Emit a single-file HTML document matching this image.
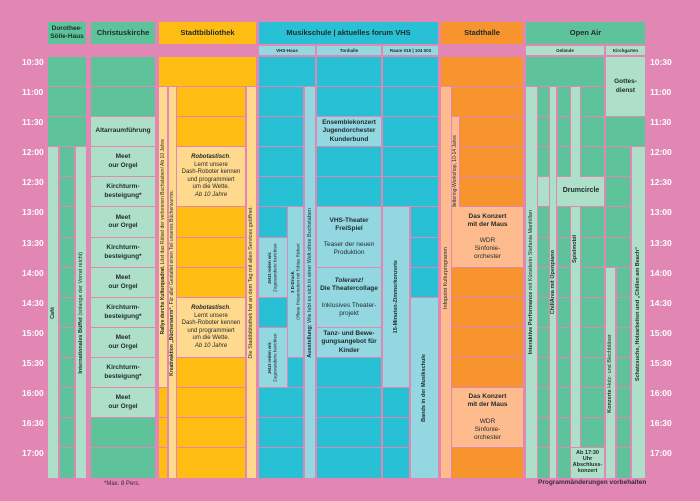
<!DOCTYPE html>
<html><head><meta charset="utf-8"><style>
*{margin:0;padding:0;box-sizing:border-box}
body{width:700px;height:501px;background:#e286b4;position:relative;overflow:hidden;font-family:"Liberation Sans",sans-serif;color:#1f2a2a}
.b{position:absolute;display:flex;align-items:center;justify-content:center;text-align:center;font-size:6.5px;line-height:1.25;overflow:hidden}
.dg{background:#5ec39b}.lg{background:#addfc9}.ye{background:#ffbd13}.ly{background:#ffd98d}
.cy{background:#27c0d4}.lb{background:#93d7e1}.or{background:#f7942d}.pe{background:#fdbb8e}
.h{font-weight:bold;font-size:7.5px}
.s{font-size:4.5px;font-weight:bold}
.v{writing-mode:vertical-rl;transform:rotate(180deg);white-space:nowrap;font-size:5.5px}
.t{position:absolute;color:#fff;font-weight:bold;font-size:8.5px;width:28px}
b{font-weight:bold}
</style></head><body>
<!-- headers -->
<div class="b dg h" style="left:48px;top:22px;width:38px;height:22px;font-size:6.5px">Dorothee-<br>Sölle-Haus</div>
<div class="b dg h" style="left:91px;top:22px;width:64px;height:22px">Christuskirche</div>
<div class="b ye h" style="left:159px;top:22px;width:97px;height:22px">Stadtbibliothek</div>
<div class="b cy h" style="left:259px;top:22px;width:179px;height:22px">Musikschule | aktuelles forum VHS</div>
<div class="b or h" style="left:441px;top:22px;width:82px;height:22px">Stadthalle</div>
<div class="b dg h" style="left:526px;top:22px;width:119px;height:22px">Open Air</div>
<div class="b lb s" style="left:259px;top:46px;width:56px;height:9px">VHS-Haus</div>
<div class="b lb s" style="left:317px;top:46px;width:64px;height:9px">Tonhalle</div>
<div class="b lb s" style="left:383px;top:46px;width:55px;height:9px">Raum 015 | 104 003</div>
<div class="b lg s" style="left:526px;top:46px;width:78px;height:9px">Gelände</div>
<div class="b lg s" style="left:606px;top:46px;width:39px;height:9px">Kirchgarten</div>
<!-- times -->
<div class="t" style="left:22px;top:57px">10:30</div><div class="t" style="left:650px;top:57px">10:30</div>
<div class="t" style="left:22px;top:87px">11:00</div><div class="t" style="left:650px;top:87px">11:00</div>
<div class="t" style="left:22px;top:117px">11:30</div><div class="t" style="left:650px;top:117px">11:30</div>
<div class="t" style="left:22px;top:147px">12:00</div><div class="t" style="left:650px;top:147px">12:00</div>
<div class="t" style="left:22px;top:177px">12:30</div><div class="t" style="left:650px;top:177px">12:30</div>
<div class="t" style="left:22px;top:207px">13:00</div><div class="t" style="left:650px;top:207px">13:00</div>
<div class="t" style="left:22px;top:238px">13:30</div><div class="t" style="left:650px;top:238px">13:30</div>
<div class="t" style="left:22px;top:268px">14:00</div><div class="t" style="left:650px;top:268px">14:00</div>
<div class="t" style="left:22px;top:298px">14:30</div><div class="t" style="left:650px;top:298px">14:30</div>
<div class="t" style="left:22px;top:328px">15:00</div><div class="t" style="left:650px;top:328px">15:00</div>
<div class="t" style="left:22px;top:358px">15:30</div><div class="t" style="left:650px;top:358px">15:30</div>
<div class="t" style="left:22px;top:388px">16:00</div><div class="t" style="left:650px;top:388px">16:00</div>
<div class="t" style="left:22px;top:418px">16:30</div><div class="t" style="left:650px;top:418px">16:30</div>
<div class="t" style="left:22px;top:448px">17:00</div><div class="t" style="left:650px;top:448px">17:00</div>
<!-- Dorothee -->
<div class="b dg" style="left:48px;top:57px;width:38px;height:29px"></div>
<div class="b dg" style="left:48px;top:87px;width:38px;height:29px"></div>
<div class="b dg" style="left:48px;top:117px;width:38px;height:29px"></div>
<div class="b lg" style="left:48px;top:147px;width:10px;height:331px"><span class="v"><b>Café</b></span></div>
<div class="b dg" style="left:60px;top:147px;width:14px;height:29px"></div>
<div class="b dg" style="left:60px;top:177px;width:14px;height:29px"></div>
<div class="b dg" style="left:60px;top:207px;width:14px;height:30px"></div>
<div class="b dg" style="left:60px;top:238px;width:14px;height:29px"></div>
<div class="b dg" style="left:60px;top:268px;width:14px;height:29px"></div>
<div class="b dg" style="left:60px;top:298px;width:14px;height:29px"></div>
<div class="b dg" style="left:60px;top:328px;width:14px;height:29px"></div>
<div class="b dg" style="left:60px;top:358px;width:14px;height:29px"></div>
<div class="b dg" style="left:60px;top:388px;width:14px;height:29px"></div>
<div class="b dg" style="left:60px;top:418px;width:14px;height:29px"></div>
<div class="b dg" style="left:60px;top:448px;width:14px;height:30px"></div>
<div class="b lg" style="left:76px;top:147px;width:10px;height:331px"><span class="v"><b>Internationales Büffet</b> (solange der Vorrat reicht)</span></div>
<!-- Christuskirche -->
<div class="b dg" style="left:91px;top:57px;width:64px;height:29px"></div>
<div class="b dg" style="left:91px;top:87px;width:64px;height:29px"></div>
<div class="b lg" style="left:91px;top:117px;width:64px;height:29px"><b>Altarraumführung</b></div>
<div class="b lg" style="left:91px;top:147px;width:64px;height:29px"><b>Meet<br>our Orgel</b></div>
<div class="b lg" style="left:91px;top:177px;width:64px;height:29px"><b>Kirchturm-<br>besteigung*</b></div>
<div class="b lg" style="left:91px;top:207px;width:64px;height:30px"><b>Meet<br>our Orgel</b></div>
<div class="b lg" style="left:91px;top:238px;width:64px;height:29px"><b>Kirchturm-<br>besteigung*</b></div>
<div class="b lg" style="left:91px;top:268px;width:64px;height:29px"><b>Meet<br>our Orgel</b></div>
<div class="b lg" style="left:91px;top:298px;width:64px;height:29px"><b>Kirchturm-<br>besteigung*</b></div>
<div class="b lg" style="left:91px;top:328px;width:64px;height:29px"><b>Meet<br>our Orgel</b></div>
<div class="b lg" style="left:91px;top:358px;width:64px;height:29px"><b>Kirchturm-<br>besteigung*</b></div>
<div class="b lg" style="left:91px;top:388px;width:64px;height:29px"><b>Meet<br>our Orgel</b></div>
<div class="b dg" style="left:91px;top:418px;width:64px;height:29px"></div>
<div class="b dg" style="left:91px;top:448px;width:64px;height:30px"></div>
<!-- Stadtbibliothek -->
<div class="b ye" style="left:159px;top:57px;width:97px;height:29px"></div>
<div class="b ly" style="left:159px;top:87px;width:8px;height:300px"><span class="v" style="font-size:5px"><b>Rallye durchs Kulturquadrat.</b> Löst das Rätsel der verlorenen Buchstaben! Ab 10 Jahre</span></div>
<div class="b ye" style="left:159px;top:388px;width:8px;height:29px"></div>
<div class="b ye" style="left:159px;top:418px;width:8px;height:29px"></div>
<div class="b ye" style="left:159px;top:448px;width:8px;height:30px"></div>
<div class="b ly" style="left:169px;top:87px;width:7px;height:391px"><span class="v" style="font-size:5px"><b>Kreativaktion „Bücherwurm“.</b> Für alle! Gestaltet einen Teil unseres Bücherwurms.</span></div>
<div class="b ye" style="left:177px;top:87px;width:68px;height:29px"></div>
<div class="b ye" style="left:177px;top:117px;width:68px;height:29px"></div>
<div class="b ly" style="left:177px;top:147px;width:68px;height:59px;font-size:6px"><div><b><i>Robotastisch</i></b>.<br>Lernt unsere<br>Dash-Roboter kennen<br>und programmiert<br>um die Wette.<br><i>Ab 10 Jahre</i></div></div>
<div class="b ye" style="left:177px;top:207px;width:68px;height:30px"></div>
<div class="b ye" style="left:177px;top:238px;width:68px;height:29px"></div>
<div class="b ye" style="left:177px;top:268px;width:68px;height:29px"></div>
<div class="b ly" style="left:177px;top:298px;width:68px;height:59px;font-size:6px"><div><b><i>Robotastisch</i></b>.<br>Lernt unsere<br>Dash-Roboter kennen<br>und programmiert<br>um die Wette.<br><i>Ab 10 Jahre</i></div></div>
<div class="b ye" style="left:177px;top:358px;width:68px;height:29px"></div>
<div class="b ye" style="left:177px;top:388px;width:68px;height:29px"></div>
<div class="b ye" style="left:177px;top:418px;width:68px;height:29px"></div>
<div class="b ye" style="left:177px;top:448px;width:68px;height:30px"></div>
<div class="b ly" style="left:247px;top:87px;width:9px;height:391px"><span class="v">Die Stadtbibliothek hat an dem Tag mit allen Services geöffnet.</span></div>
<!-- VHS-Haus -->
<div class="b cy" style="left:259px;top:57px;width:56px;height:29px"></div>
<div class="b cy" style="left:259px;top:87px;width:44px;height:29px"></div>
<div class="b cy" style="left:259px;top:117px;width:44px;height:29px"></div>
<div class="b cy" style="left:259px;top:147px;width:44px;height:29px"></div>
<div class="b cy" style="left:259px;top:177px;width:44px;height:29px"></div>
<div class="b cy" style="left:259px;top:207px;width:28px;height:30px"></div>
<div class="b lb" style="left:259px;top:238px;width:28px;height:59px"><span class="v" style="font-size:4.5px;white-space:normal;height:56px"><b>Jetzt reden wir.</b><br>Zugewanderte berichten</span></div>
<div class="b cy" style="left:259px;top:298px;width:28px;height:29px"></div>
<div class="b lb" style="left:259px;top:328px;width:28px;height:59px"><span class="v" style="font-size:4.5px;white-space:normal;height:56px"><b>Jetzt reden wir.</b><br>Zugewanderte berichten</span></div>
<div class="b lb" style="left:288px;top:207px;width:15px;height:150px"><span class="v" style="font-size:4.5px;white-space:normal;height:140px"><b>3 D-Druck.</b><br>Offene Präsentation mit Tobias Rickert</span></div>
<div class="b cy" style="left:288px;top:358px;width:15px;height:29px"></div>
<div class="b cy" style="left:259px;top:388px;width:44px;height:29px"></div>
<div class="b cy" style="left:259px;top:418px;width:44px;height:29px"></div>
<div class="b cy" style="left:259px;top:448px;width:44px;height:30px"></div>
<div class="b lb" style="left:305px;top:87px;width:10px;height:391px"><span class="v"><b>Ausstellung:</b> Wie lebt es sich in einer Welt ohne Buchstaben</span></div>
<!-- Tonhalle -->
<div class="b cy" style="left:317px;top:57px;width:64px;height:29px"></div>
<div class="b cy" style="left:317px;top:87px;width:64px;height:29px"></div>
<div class="b lb" style="left:317px;top:117px;width:64px;height:29px"><b>Ensemblekonzert<br>Jugendorchester<br>Kunderbund</b></div>
<div class="b cy" style="left:317px;top:147px;width:64px;height:29px"></div>
<div class="b cy" style="left:317px;top:177px;width:64px;height:29px"></div>
<div class="b lb" style="left:317px;top:207px;width:64px;height:60px"><div><b>VHS-Theater<br>FreiSpiel</b><br><br>Teaser der neuen<br>Produktion</div></div>
<div class="b lb" style="left:317px;top:268px;width:64px;height:59px"><div><b><i>Toleranz!</i><br>Die Theatercollage</b><br><br>Inklusives Theater-<br>projekt</div></div>
<div class="b lb" style="left:317px;top:328px;width:64px;height:29px"><b>Tanz- und Bewe-<br>gungsangebot für<br>Kinder</b></div>
<div class="b cy" style="left:317px;top:358px;width:64px;height:29px"></div>
<div class="b cy" style="left:317px;top:388px;width:64px;height:29px"></div>
<div class="b cy" style="left:317px;top:418px;width:64px;height:29px"></div>
<div class="b cy" style="left:317px;top:448px;width:64px;height:30px"></div>
<!-- Raum -->
<div class="b cy" style="left:383px;top:57px;width:55px;height:29px"></div>
<div class="b cy" style="left:383px;top:87px;width:55px;height:29px"></div>
<div class="b cy" style="left:383px;top:117px;width:55px;height:29px"></div>
<div class="b cy" style="left:383px;top:147px;width:55px;height:29px"></div>
<div class="b cy" style="left:383px;top:177px;width:55px;height:29px"></div>
<div class="b lb" style="left:383px;top:207px;width:26px;height:180px"><span class="v"><b>15-Minuten-Zimmerkonzerte</b></span></div>
<div class="b cy" style="left:383px;top:388px;width:26px;height:29px"></div>
<div class="b cy" style="left:383px;top:418px;width:26px;height:29px"></div>
<div class="b cy" style="left:383px;top:448px;width:26px;height:30px"></div>
<div class="b cy" style="left:411px;top:207px;width:27px;height:30px"></div>
<div class="b cy" style="left:411px;top:238px;width:27px;height:29px"></div>
<div class="b cy" style="left:411px;top:268px;width:27px;height:29px"></div>
<div class="b lb" style="left:411px;top:298px;width:27px;height:180px"><span class="v"><b>Bands in der Musikschule</b></span></div>
<!-- Stadthalle -->
<div class="b or" style="left:441px;top:57px;width:82px;height:29px"></div>
<div class="b pe" style="left:441px;top:87px;width:10px;height:391px;align-items:flex-start;padding-top:160px"><span class="v">Infopoint Kulturprogramm</span></div>
<div class="b or" style="left:452px;top:87px;width:71px;height:29px"></div>
<div class="b pe" style="left:452px;top:117px;width:7px;height:119px"><span class="v" style="font-size:5px">Handlettering-Workshop, 10-14 Jahre</span></div>
<div class="b or" style="left:460px;top:117px;width:63px;height:29px"></div>
<div class="b or" style="left:460px;top:147px;width:63px;height:29px"></div>
<div class="b or" style="left:460px;top:177px;width:63px;height:29px"></div>
<div class="b pe" style="left:452px;top:207px;width:71px;height:60px"><div><b>Das Konzert<br>mit der Maus</b><br><br>WDR<br>Sinfonie-<br>orchester</div></div>
<div class="b or" style="left:452px;top:268px;width:71px;height:29px"></div>
<div class="b or" style="left:452px;top:298px;width:71px;height:29px"></div>
<div class="b or" style="left:452px;top:328px;width:71px;height:29px"></div>
<div class="b or" style="left:452px;top:358px;width:71px;height:29px"></div>
<div class="b pe" style="left:452px;top:388px;width:71px;height:59px"><div><b>Das Konzert<br>mit der Maus</b><br><br>WDR<br>Sinfonie-<br>orchester</div></div>
<div class="b or" style="left:452px;top:448px;width:71px;height:30px"></div>
<!-- Open Air Gelände -->
<div class="b dg" style="left:526px;top:57px;width:78px;height:29px"></div>
<div class="b lg" style="left:526px;top:87px;width:11px;height:391px"><span class="v"><b>Interaktive Performance</b> mit Künstlerin Stefania Manhillan</span></div>
<div class="b dg" style="left:538px;top:87px;width:11px;height:29px"></div>
<div class="b dg" style="left:538px;top:117px;width:11px;height:29px"></div>
<div class="b dg" style="left:538px;top:147px;width:11px;height:29px"></div>
<div class="b lg" style="left:538px;top:177px;width:66px;height:29px"></div>
<div class="b dg" style="left:538px;top:207px;width:11px;height:30px"></div>
<div class="b dg" style="left:538px;top:238px;width:11px;height:29px"></div>
<div class="b dg" style="left:538px;top:268px;width:11px;height:29px"></div>
<div class="b dg" style="left:538px;top:298px;width:11px;height:29px"></div>
<div class="b dg" style="left:538px;top:328px;width:11px;height:29px"></div>
<div class="b dg" style="left:538px;top:358px;width:11px;height:29px"></div>
<div class="b dg" style="left:538px;top:388px;width:11px;height:29px"></div>
<div class="b dg" style="left:538px;top:418px;width:11px;height:29px"></div>
<div class="b dg" style="left:538px;top:448px;width:11px;height:30px"></div>
<div class="b lg" style="left:549px;top:87px;width:8px;height:391px;border-left:1px solid #e286b4;border-right:1px solid #e286b4"><span class="v"><b>ChillArea mit Openpiano</b></span></div>
<div class="b dg" style="left:558px;top:87px;width:12px;height:29px"></div>
<div class="b dg" style="left:558px;top:117px;width:12px;height:29px"></div>
<div class="b dg" style="left:558px;top:147px;width:12px;height:29px"></div>
<div class="b dg" style="left:558px;top:207px;width:12px;height:30px"></div>
<div class="b dg" style="left:558px;top:238px;width:12px;height:29px"></div>
<div class="b dg" style="left:558px;top:268px;width:12px;height:29px"></div>
<div class="b dg" style="left:558px;top:298px;width:12px;height:29px"></div>
<div class="b dg" style="left:558px;top:328px;width:12px;height:29px"></div>
<div class="b dg" style="left:558px;top:358px;width:12px;height:29px"></div>
<div class="b dg" style="left:558px;top:388px;width:12px;height:29px"></div>
<div class="b dg" style="left:558px;top:418px;width:12px;height:29px"></div>
<div class="b dg" style="left:558px;top:448px;width:12px;height:30px"></div>
<div class="b lg" style="left:571px;top:87px;width:9px;height:90px"></div>
<div class="b lg" style="left:571px;top:207px;width:9px;height:240px;align-items:flex-start;padding-top:28px"><span class="v"><b>Spielmobil</b></span></div>
<div class="b" style="left:558px;top:177px;width:46px;height:29px"><b style="font-size:7px">Drumcircle</b></div>
<div class="b dg" style="left:581px;top:87px;width:23px;height:29px"></div>
<div class="b dg" style="left:581px;top:117px;width:23px;height:29px"></div>
<div class="b dg" style="left:581px;top:147px;width:23px;height:29px"></div>
<div class="b dg" style="left:581px;top:207px;width:23px;height:30px"></div>
<div class="b dg" style="left:581px;top:238px;width:23px;height:29px"></div>
<div class="b dg" style="left:581px;top:268px;width:23px;height:29px"></div>
<div class="b dg" style="left:581px;top:298px;width:23px;height:29px"></div>
<div class="b dg" style="left:581px;top:328px;width:23px;height:29px"></div>
<div class="b dg" style="left:581px;top:358px;width:23px;height:29px"></div>
<div class="b dg" style="left:581px;top:388px;width:23px;height:29px"></div>
<div class="b dg" style="left:581px;top:418px;width:23px;height:29px"></div>
<div class="b lg" style="left:571px;top:448px;width:33px;height:30px;font-size:5.5px;line-height:1.05"><b>Ab 17:30<br>Uhr<br>Abschluss-<br>konzert</b></div>
<!-- Kirchgarten -->
<div class="b lg" style="left:606px;top:57px;width:39px;height:59px"><b>Gottes-<br>dienst</b></div>
<div class="b dg" style="left:606px;top:117px;width:39px;height:29px"></div>
<div class="b dg" style="left:606px;top:147px;width:24px;height:29px"></div>
<div class="b dg" style="left:606px;top:177px;width:24px;height:29px"></div>
<div class="b dg" style="left:606px;top:207px;width:24px;height:30px"></div>
<div class="b dg" style="left:606px;top:238px;width:24px;height:29px"></div>
<div class="b lg" style="left:606px;top:268px;width:9px;height:210px"><span class="v"><b>Konzerte</b> Holz- und Blechbläser</span></div>
<div class="b dg" style="left:617px;top:268px;width:13px;height:29px"></div>
<div class="b dg" style="left:617px;top:298px;width:13px;height:29px"></div>
<div class="b dg" style="left:617px;top:328px;width:13px;height:29px"></div>
<div class="b dg" style="left:617px;top:358px;width:13px;height:29px"></div>
<div class="b dg" style="left:617px;top:388px;width:13px;height:29px"></div>
<div class="b dg" style="left:617px;top:418px;width:13px;height:29px"></div>
<div class="b dg" style="left:617px;top:448px;width:13px;height:30px"></div>
<div class="b lg" style="left:632px;top:147px;width:13px;height:331px;align-items:flex-start;padding-top:100px"><span class="v"><b>Schatzsuche, Holzarbeiten und „Chillen am Beach“</b></span></div>
<!-- footer -->
<div style="position:absolute;left:104px;top:481px;font-size:6px;color:#3a2a3a">*Max. 8 Pers.</div>
<div style="position:absolute;left:538px;top:479px;font-size:6.5px;font-weight:bold;color:#3a2a3a">Programmänderungen vorbehalten</div>
</body></html>
